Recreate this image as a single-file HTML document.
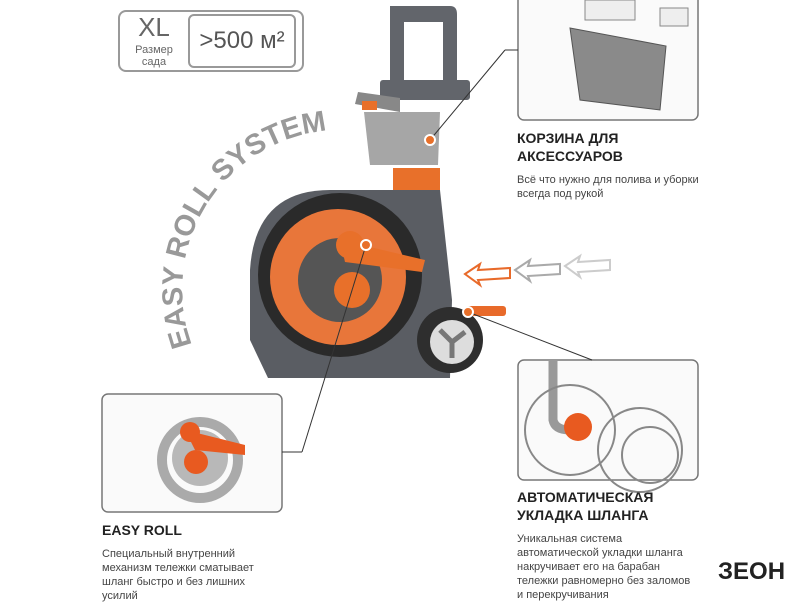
<!DOCTYPE html>
<html><head><meta charset="utf-8"><style>
body{margin:0;width:800px;height:600px;background:#fff;position:relative;overflow:hidden;font-family:"Liberation Sans",sans-serif;color:#333}
.a{position:absolute}
.h{font-weight:bold;font-size:14px;color:#222;line-height:18px}
.p{font-size:11px;color:#444;line-height:14px}
</style></head><body>
<div class="a" style="left:118px;top:10px;width:186px;height:62px;border:2px solid #999;border-radius:8px;box-sizing:border-box"></div>
<div class="a" style="left:188px;top:14px;width:108px;height:54px;border:2px solid #999;border-radius:6px;box-sizing:border-box;font-size:24px;color:#555;text-align:center;line-height:50px">&gt;500 м²</div>
<div class="a" style="left:124px;top:12px;width:60px;text-align:center;color:#666;font-size:26px">XL</div>
<div class="a" style="left:124px;top:44px;width:60px;text-align:center;color:#666;font-size:11px;line-height:12px">Размер<br>сада</div>

<svg class="a" style="left:0;top:0" width="800" height="600">
<rect x="518" y="-6" width="180" height="126" rx="6" fill="#fafafa" stroke="#777" stroke-width="1.5"/>
<path d="M570 28 L666 46 L660 110 L580 100 Z" fill="#8a8a8a" stroke="#555"/>
<rect x="585" y="0" width="50" height="20" fill="#eee" stroke="#888"/>
<rect x="660" y="8" width="28" height="18" fill="#eee" stroke="#888"/>
<rect x="102" y="394" width="180" height="118" rx="6" fill="#fafafa" stroke="#777" stroke-width="1.5"/>
<circle cx="200" cy="460" r="38" fill="none" stroke="#aaa" stroke-width="10"/>
<circle cx="200" cy="458" r="28" fill="#b8b8b8"/>
<circle cx="196" cy="462" r="12" fill="#e85a20"/>
<path d="M185 430 L245 445 L245 455 L195 450 Z" fill="#e85a20"/>
<circle cx="190" cy="432" r="10" fill="#e85a20"/>
<rect x="518" y="360" width="180" height="120" rx="6" fill="#fafafa" stroke="#777" stroke-width="1.5"/>
<path d="M553 360 L553 420 Q555 430 570 430" stroke="#999" stroke-width="9" fill="none"/>
<circle cx="578" cy="427" r="14" fill="#e85a20"/>
<circle cx="640" cy="450" r="42" fill="none" stroke="#888" stroke-width="2"/>
<circle cx="650" cy="455" r="28" fill="none" stroke="#888" stroke-width="2"/>
<circle cx="570" cy="430" r="45" fill="none" stroke="#888" stroke-width="2"/>
<!-- product -->
<path d="M390 6 L450 6 Q457 6 457 14 L457 90 L443 90 L443 22 L404 22 L404 90 L390 90 Z" fill="#62656b"/>
<rect x="380" y="80" width="90" height="20" fill="#62656b" rx="3"/>
<path d="M358 92 L400 98 L400 112 L355 104 Z" fill="#888"/>
<rect x="362" y="101" width="15" height="9" fill="#e8702a"/>
<path d="M364 112 L440 112 L438 165 L370 165 Z" fill="#a6a6a6"/>
<path d="M393 168 L440 168 L440 195 L393 195 Z" fill="#e8702a"/>
<path d="M250 270 Q255 190 330 190 L440 190 L452 300 L450 378 L268 378 L250 340 Z" fill="#5a5d63"/>
<circle cx="340" cy="275" r="82" fill="#2a2a2a"/>
<circle cx="338" cy="277" r="68" fill="#e8763a"/>
<circle cx="340" cy="280" r="42" fill="#555"/>
<circle cx="352" cy="290" r="18" fill="#e8702a"/>
<path d="M340 240 L425 260 L422 272 L345 262Z" fill="#e8702a"/>
<circle cx="350" cy="245" r="14" fill="#e8702a"/>
<circle cx="450" cy="340" r="33" fill="#2e2e2e"/>
<circle cx="452" cy="342" r="22" fill="#ddd"/>
<path d="M452 342 L440 330 M452 342 L465 332 M452 342 L452 358" stroke="#777" stroke-width="5"/>
<rect x="466" y="306" width="40" height="10" fill="#e86a2a" rx="3"/>
<path d="M465 274 L480 264 L478 270 L510 268 L510 278 L478 280 L480 285 Z" fill="none" stroke="#e86a2a" stroke-width="2"/>
<path d="M515 270 L530 260 L528 266 L560 264 L560 274 L528 276 L530 281 Z" fill="none" stroke="#aaa" stroke-width="2"/>
<path d="M565 266 L580 256 L578 262 L610 260 L610 270 L578 272 L580 277 Z" fill="none" stroke="#ccc" stroke-width="2"/>
<line x1="430" y1="140" x2="505" y2="50" stroke="#333"/>
<line x1="505" y1="50" x2="518" y2="50" stroke="#333"/>
<circle cx="430" cy="140" r="5" fill="#e8702a" stroke="#fff" stroke-width="2"/>
<line x1="366" y1="245" x2="302" y2="452" stroke="#333"/>
<line x1="302" y1="452" x2="282" y2="452" stroke="#333"/>
<circle cx="366" cy="245" r="5" fill="#e8702a" stroke="#fff" stroke-width="2"/>
<line x1="468" y1="312" x2="592" y2="360" stroke="#333"/>
<circle cx="468" cy="312" r="5" fill="#e8702a" stroke="#fff" stroke-width="2"/>
<path id="arc" d="M192 345 A 160 160 0 0 1 335 130" fill="none"/>
<text font-family="Liberation Sans" font-weight="bold" font-size="29" fill="#999"><textPath href="#arc">EASY ROLL SYSTEM</textPath></text>
</svg>

<div class="a h" style="left:517px;top:129px">КОРЗИНА ДЛЯ<br>АКСЕССУАРОВ</div>
<div class="a p" style="left:517px;top:173px">Всё что нужно для полива и уборки<br>всегда под рукой</div>
<div class="a h" style="left:517px;top:488px">АВТОМАТИЧЕСКАЯ<br>УКЛАДКА ШЛАНГА</div>
<div class="a p" style="left:517px;top:532px">Уникальная система<br>автоматической укладки шланга<br>накручивает его на барабан<br>тележки равномерно без заломов<br>и перекручивания</div>
<div class="a h" style="left:102px;top:521px">EASY ROLL</div>
<div class="a p" style="left:102px;top:547px">Специальный внутренний<br>механизм тележки сматывает<br>шланг быстро и без лишних<br>усилий</div>
<div class="a" style="left:718px;top:558px;font-size:24px;font-weight:bold;color:#222">ЗЕОН</div>
</body></html>
